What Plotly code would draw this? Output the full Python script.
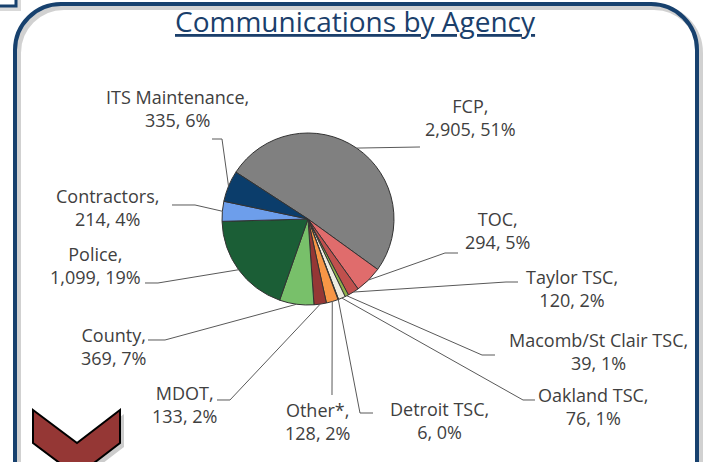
import math
import plotly.graph_objects as go

W, H = 704, 462

# ---- data ----
agencies = ["FCP", "TOC", "Taylor TSC", "Macomb/St Clair TSC", "Oakland TSC",
            "Detroit TSC", "Other*", "MDOT", "County", "Police", "Contractors",
            "ITS Maintenance"]
counts = [2905, 294, 120, 39, 76, 6, 128, 133, 369, 1099, 214, 335]
pct_labels = ["51%", "5%", "2%", "1%", "1%", "0%", "2%", "2%", "7%", "19%", "4%", "6%"]
colors = ["#808080", "#E06C6C", "#C0504D", "#8DB04A", "#EEECE1", "#FFFFFF",
          "#F79646", "#953735", "#78C06A", "#1B5E36", "#6D9EEB", "#0B3D6B"]

# ---- layout helpers (pixel -> paper) ----
def X(px):
    return px / W

def Y(py):
    return 1 - py / H

CX, CY, R = 308, 219, 86
ROTATION = -57

# label centres (px) and leader-line anchor points near the labels (px)
label_centres = [(470, 117), (497, 230), (572, 288), (598, 351), (593, 406),
                 (439, 420), (317, 421), (185, 404), (113, 346), (95, 265),
                 (107, 207), (177, 109)]
leader_anchors = [[(420, 147)], [(458, 253), (445, 253)], [(518, 282), (506, 282)],
                  [(495, 355), (482, 355)], [(535, 400), (523, 400)],
                  [(373, 413), (360, 413)], [(332, 395)], [(217, 400), (230, 400)],
                  [(148, 340), (165, 340)], [(145, 283), (158, 283)],
                  [(172, 205), (195, 205)], [(212, 139), (222, 139)]]

fig = go.Figure()

fig.add_trace(go.Pie(
    values=counts, labels=agencies, sort=False, direction="clockwise",
    rotation=ROTATION, textinfo="none", showlegend=False,
    marker=dict(colors=colors, line=dict(color="#333333", width=1)),
    domain=dict(x=[X(CX - R), X(CX + R)], y=[Y(CY + R), Y(CY - R)]),
    hoverinfo="label+value+percent",
))

shapes = []

def path_from(points):
    return "M " + " L ".join(f"{X(px):.5f},{Y(py):.5f}" for px, py in points)

# leader lines: from label anchor to the slice's mid-angle point on the pie edge
total = sum(counts)
cum = 0
for i, v in enumerate(counts):
    mid = ROTATION + (cum + v / 2) / total * 360
    cum += v
    a = math.radians(mid)
    pie_pt = (CX + R * math.sin(a), CY - R * math.cos(a))
    pts = leader_anchors[i] + [pie_pt]
    shapes.append(dict(type="path", xref="paper", yref="paper", path=path_from(pts),
                       line=dict(color="#595959", width=1), layer="above"))

annotations = []
for i, name in enumerate(agencies):
    lx, ly = label_centres[i]
    annotations.append(dict(
        x=X(lx), y=Y(ly), xref="paper", yref="paper", showarrow=False,
        text=f"{name},<br>{counts[i]:,}, {pct_labels[i]}",
        font=dict(family="Open Sans", size=18, color="#404040"),
        xanchor="center", yanchor="middle", align="center"))

# title
annotations.append(dict(
    x=X(355), y=Y(21), xref="paper", yref="paper", showarrow=False,
    text="<u>Communications by Agency</u>",
    font=dict(family="Open Sans", size=28, color="#1B3F6B"),
    xanchor="center", yanchor="middle"))

# frame (rounded rectangle) with shadow
def frame_path(dx=0, dy=0):
    k = 25.4
    l, t, r, b, rad = 15 + dx, 4 + dy, 697 + dx, 480 + dy, 46
    return (f"M {X(l)},{Y(b)} L {X(l)},{Y(t + rad)} "
            f"C {X(l)},{Y(t + rad - k)} {X(l + rad - k)},{Y(t)} {X(l + rad)},{Y(t)} "
            f"L {X(r - rad)},{Y(t)} "
            f"C {X(r - rad + k)},{Y(t)} {X(r)},{Y(t + rad - k)} {X(r)},{Y(t + rad)} "
            f"L {X(r)},{Y(b)}")

shapes.insert(0, dict(type="path", xref="paper", yref="paper", path=frame_path(3, 3),
                      line=dict(color="rgba(0,0,0,0.18)", width=6), layer="below"))
shapes.insert(1, dict(type="path", xref="paper", yref="paper", path=frame_path(),
                      line=dict(color="#17416E", width=4), layer="below"))

# corner of neighbouring box (top-left)
shapes.append(dict(type="path", xref="paper", yref="paper",
                   path=path_from([(0, 9), (19, 9), (19, 0)]),
                   line=dict(color="rgba(0,0,0,0.15)", width=4), layer="below"))
shapes.append(dict(type="path", xref="paper", yref="paper",
                   path=path_from([(0, 6), (16, 6), (16, 0)]),
                   line=dict(color="#17416E", width=3), layer="below"))

# chevron
chev = [(33, 410), (77, 443), (120, 410), (120, 443), (77, 476), (33, 443)]
shapes.append(dict(type="path", xref="paper", yref="paper",
                   path=path_from([(x + 4, y + 4) for x, y in chev]) + " Z",
                   fillcolor="rgba(0,0,0,0.2)", line=dict(width=0), layer="above"))
shapes.append(dict(type="path", xref="paper", yref="paper",
                   path=path_from(chev) + " Z",
                   fillcolor="#953735", line=dict(color="#000000", width=2), layer="above"))

fig.update_layout(
    width=W, height=H, margin=dict(l=0, r=0, t=0, b=0),
    paper_bgcolor="white", plot_bgcolor="white",
    shapes=shapes, annotations=annotations, showlegend=False,
)

fig.write_html("out.html", config={"displayModeBar": False},
               post_script="document.body.style.margin='0';document.body.style.overflow='hidden';")
